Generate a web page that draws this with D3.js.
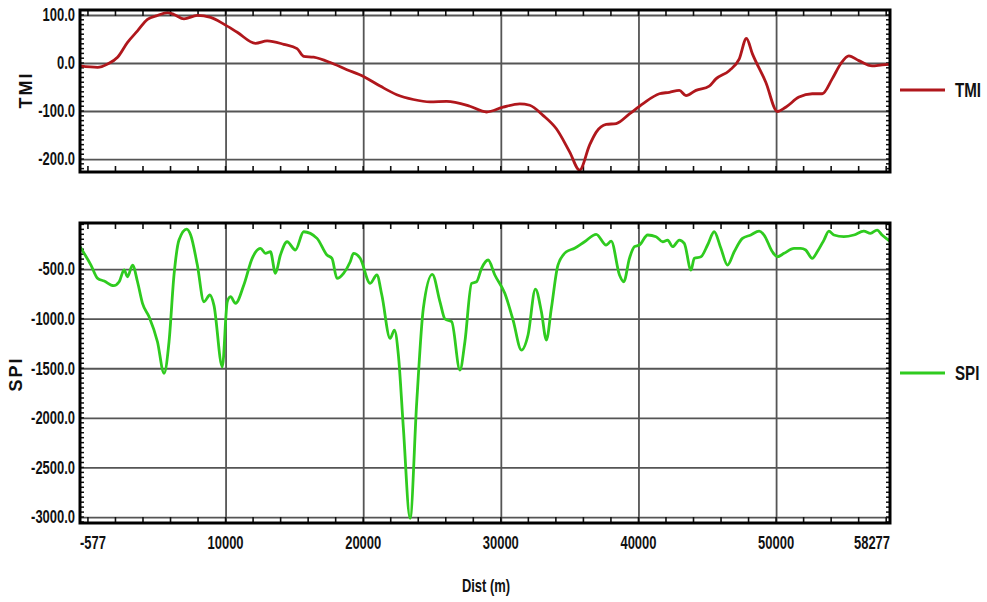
<html>
<head>
<script src="https://d3js.org/d3.v7.min.js"></script>
<style>
body { margin: 0; background: #fff; }
text { font-family: 'Liberation Sans', Arial, sans-serif; font-weight: bold; fill: #111; }
.grid line { stroke: #555; stroke-width: 1.8; }
.tick-mark { stroke: #111; stroke-width: 1.6; }
</style>
</head>
<body>
<div id="chart"></div>
<script>

// ---- data (distance in m) ----
var tmiDist = [-577, 703, 1428, 2153, 2877, 3602, 4326, 5051, 5776, 6254, 6978, 7949, 8913, 9877,
  10848, 12174, 13022, 14224, 15195, 15673, 16398, 17608, 18818, 20021, 21231, 22441, 23644, 24854,
  26064, 27753, 28963, 30166, 31376, 32100, 33064, 34035, 34999, 35723, 36448, 36933, 37658, 38382,
  39346, 40310, 41521, 42245, 42970, 43455, 44180, 45143, 45629, 46593, 47317, 47846, 48281, 49252,
  50092, 50701, 51665, 52628, 53353, 54077, 54686, 55287, 56012, 56976, 57700, 58277];
var tmiValues = [-6, -9, -2, 12, 43, 67, 91, 99, 105, 101, 92, 99, 95, 81,
  64, 41, 46, 39, 30, 14, 12, 1, -14, -28, -48, -66, -76, -81,
  -80, -90, -102, -92, -85, -88, -109, -137, -185, -223, -171, -144, -128, -126,
  -106, -85, -64, -61, -57, -68, -57, -48, -33, -16, 8, 51, 19, -40,
  -101, -92, -71, -64, -64, -33, -2, 15, 5, -6, -4, -3];

var spiDist = [-577, 218, 703, 1182, 1863, 2269, 2631, 2877, 3240, 3602, 3964, 4442, 5051, 5529,
  5892, 6254, 6616, 7174, 7464, 7949, 8428, 8862, 9152, 9761, 10123, 10362, 10725, 11326, 11935,
  12536, 12898, 13261, 13623, 13985, 14471, 15072, 15674, 16645, 17369, 17731, 18094, 18572, 19058,
  19297, 19782, 20507, 20992, 21354, 21956, 22267, 22557, 22920, 23405, 23891, 24369, 25021, 25579,
  25941, 26427, 27028, 27390, 27876, 28238, 28600, 29079, 29564, 30289, 30890, 31499, 31977, 32513,
  32948, 33310, 33672, 34151, 34759, 35361, 36086, 36933, 37658, 38020, 38622, 38933, 39346, 39709,
  40071, 40672, 41281, 41759, 42121, 42484, 42970, 43331, 43817, 44056, 44542, 45020, 45505, 45990,
  46469, 46955, 47556, 48165, 48766, 49128, 49730, 50092, 50577, 51302, 51787, 52149, 52628, 52990,
  53476, 53838, 54200, 54925, 55649, 56374, 56860, 57338, 57700, 58277];
var spiValues = [-275, -460, -594, -621, -668, -628, -510, -578, -460, -628, -846, -981, -1233, -1551,
  -1233, -560, -208, -97, -157, -460, -830, -762, -863, -1485, -830, -779, -846, -661, -392,
  -291, -342, -326, -543, -359, -225, -308, -124, -191, -359, -392, -594, -543, -426,
  -342, -392, -644, -560, -762, -1199, -1115, -1367, -2106, -3013, -1838, -896, -553, -830,
  -1004, -1031, -1518, -1233, -644, -628, -493, -409, -560, -745, -1014, -1317, -1165, -702,
  -930, -1216, -896, -460, -326, -291, -225, -150, -258, -218, -560, -628, -392, -275,
  -258, -157, -174, -225, -208, -275, -208, -241, -510, -392, -376, -258, -124, -291,
  -460, -326, -191, -157, -117, -157, -326, -376, -342, -291, -291, -308, -392, -326,
  -208, -117, -157, -174, -157, -117, -140, -107, -157, -220];

var xGridValues = [10000, 20000, 30000, 40000, 50000];
var xTickLabels = [-577, 10000, 20000, 30000, 40000, 50000, 58277];
var tmiTicks = [100, 0, -100, -200];
var spiTicks = [-500, -1000, -1500, -2000, -2500, -3000];

var narrow = 0.72; // the labels in the original are set in a condensed face

var svg = d3.select("#chart").append("svg")
  .attr("width", 987).attr("height", 602);

var left = 80, right = 890;
var xScale = d3.scaleLinear().domain([-577, 58277]).range([left, right]);

function narrowText(x, y, anchor, size, txt) {
  return svg.append("text")
    .attr("transform", "translate(" + x + "," + y + ") scale(" + narrow + ",1)")
    .attr("text-anchor", anchor)
    .style("font-size", size + "px")
    .text(txt);
}

var panels = [
  { name: "TMI", dist: tmiDist, values: tmiValues, ticks: tmiTicks, color: "#b0171c",
    domain: [-227, 110.4], top: 10, bottom: 172, minorStep: 10, legendY: 90, titleX: 32, titleY: 90 },
  { name: "SPI", dist: spiDist, values: spiValues, ticks: spiTicks, color: "#2fcb1f",
    domain: [-3060, -36], top: 223, bottom: 523, minorStep: 50, legendY: 373, titleX: 22, titleY: 374 }
];

panels.forEach(function (p, i) {
  var yScale = d3.scaleLinear().domain(p.domain).range([p.bottom, p.top]);
  var g = svg.append("g");
  var clipId = "clip" + i;

  svg.append("clipPath").attr("id", clipId).append("rect")
    .attr("x", left).attr("y", p.top).attr("width", right - left).attr("height", p.bottom - p.top);

  // horizontal grid
  g.append("g").attr("class", "grid")
    .attr("transform", "translate(" + left + ",0)")
    .call(d3.axisLeft(yScale).tickValues(p.ticks).tickSize(-(right - left)).tickFormat(""))
    .call(function (a) { a.select(".domain").remove(); });

  // vertical grid
  g.append("g").attr("class", "grid")
    .attr("transform", "translate(0," + p.bottom + ")")
    .call(d3.axisBottom(xScale).tickValues(xGridValues).tickSize(-(p.bottom - p.top)).tickFormat(""))
    .call(function (a) { a.select(".domain").remove(); });

  // minor ticks on all four sides, pointing inward
  var xMinor = d3.range(0, 58277, 2000);
  g.selectAll(null).data(xMinor).enter().append("line").attr("class", "tick-mark")
    .attr("x1", function (d) { return xScale(d); }).attr("x2", function (d) { return xScale(d); })
    .attr("y1", p.top).attr("y2", p.top + 6);
  g.selectAll(null).data(xMinor).enter().append("line").attr("class", "tick-mark")
    .attr("x1", function (d) { return xScale(d); }).attr("x2", function (d) { return xScale(d); })
    .attr("y1", p.bottom).attr("y2", p.bottom - 6);

  var yMinor = d3.range(Math.ceil(p.domain[0] / p.minorStep) * p.minorStep, p.domain[1], p.minorStep);
  [left, right].forEach(function (edge) {
    var dir = edge === left ? 1 : -1;
    g.selectAll(null).data(yMinor).enter().append("line").attr("class", "tick-mark")
      .style("stroke-width", 1.5)
      .attr("x1", edge).attr("x2", edge + dir * 4)
      .attr("y1", function (d) { return yScale(d); }).attr("y2", function (d) { return yScale(d); });
  });

  // data line
  var line = d3.line()
    .x(function (d, j) { return xScale(p.dist[j]); })
    .y(function (d) { return yScale(d); })
    .curve(d3.curveMonotoneX);

  g.append("path").datum(p.values)
    .attr("clip-path", "url(#" + clipId + ")")
    .attr("d", line)
    .style("fill", "none").style("stroke", p.color)
    .style("stroke-width", 2.8).style("stroke-linejoin", "round");

  // frame
  g.append("rect")
    .attr("x", left).attr("y", p.top).attr("width", right - left).attr("height", p.bottom - p.top)
    .style("fill", "none").style("stroke", "#000").style("stroke-width", 3);

  // y labels
  g.append("g")
    .attr("transform", "translate(" + (left - 5) + ",0)")
    .call(d3.axisLeft(yScale).tickValues(p.ticks).tickSize(0).tickPadding(0)
      .tickFormat(function (d) { return d.toFixed(1); }))
    .call(function (a) {
      a.select(".domain").remove();
      a.selectAll("text")
        .attr("transform", "scale(" + narrow + ",1)")
        .attr("fill", null)
        .style("font-size", "18px").style("font-family", null);
    });

  // axis title
  svg.append("text")
    .attr("transform", "translate(" + p.titleX + "," + p.titleY + ") rotate(-90)")
    .attr("text-anchor", "middle")
    .style("font-size", "18px").style("letter-spacing", "2px")
    .text(p.name);

  // legend
  svg.append("line")
    .attr("x1", 900).attr("x2", 945).attr("y1", p.legendY).attr("y2", p.legendY)
    .style("stroke", p.color).style("stroke-width", 2.8);
  narrowText(955, p.legendY + 7, "start", 21, p.name);

  // x labels under the lower panel
  if (i === 1) {
    xTickLabels.forEach(function (d, j) {
      var anchor = j === 0 ? "start" : (j === xTickLabels.length - 1 ? "end" : "middle");
      narrowText(xScale(d), 549, anchor, 18, String(d));
    });
    narrowText(486, 592, "middle", 18, "Dist (m)");
  }
});

</script>
</body>
</html>
